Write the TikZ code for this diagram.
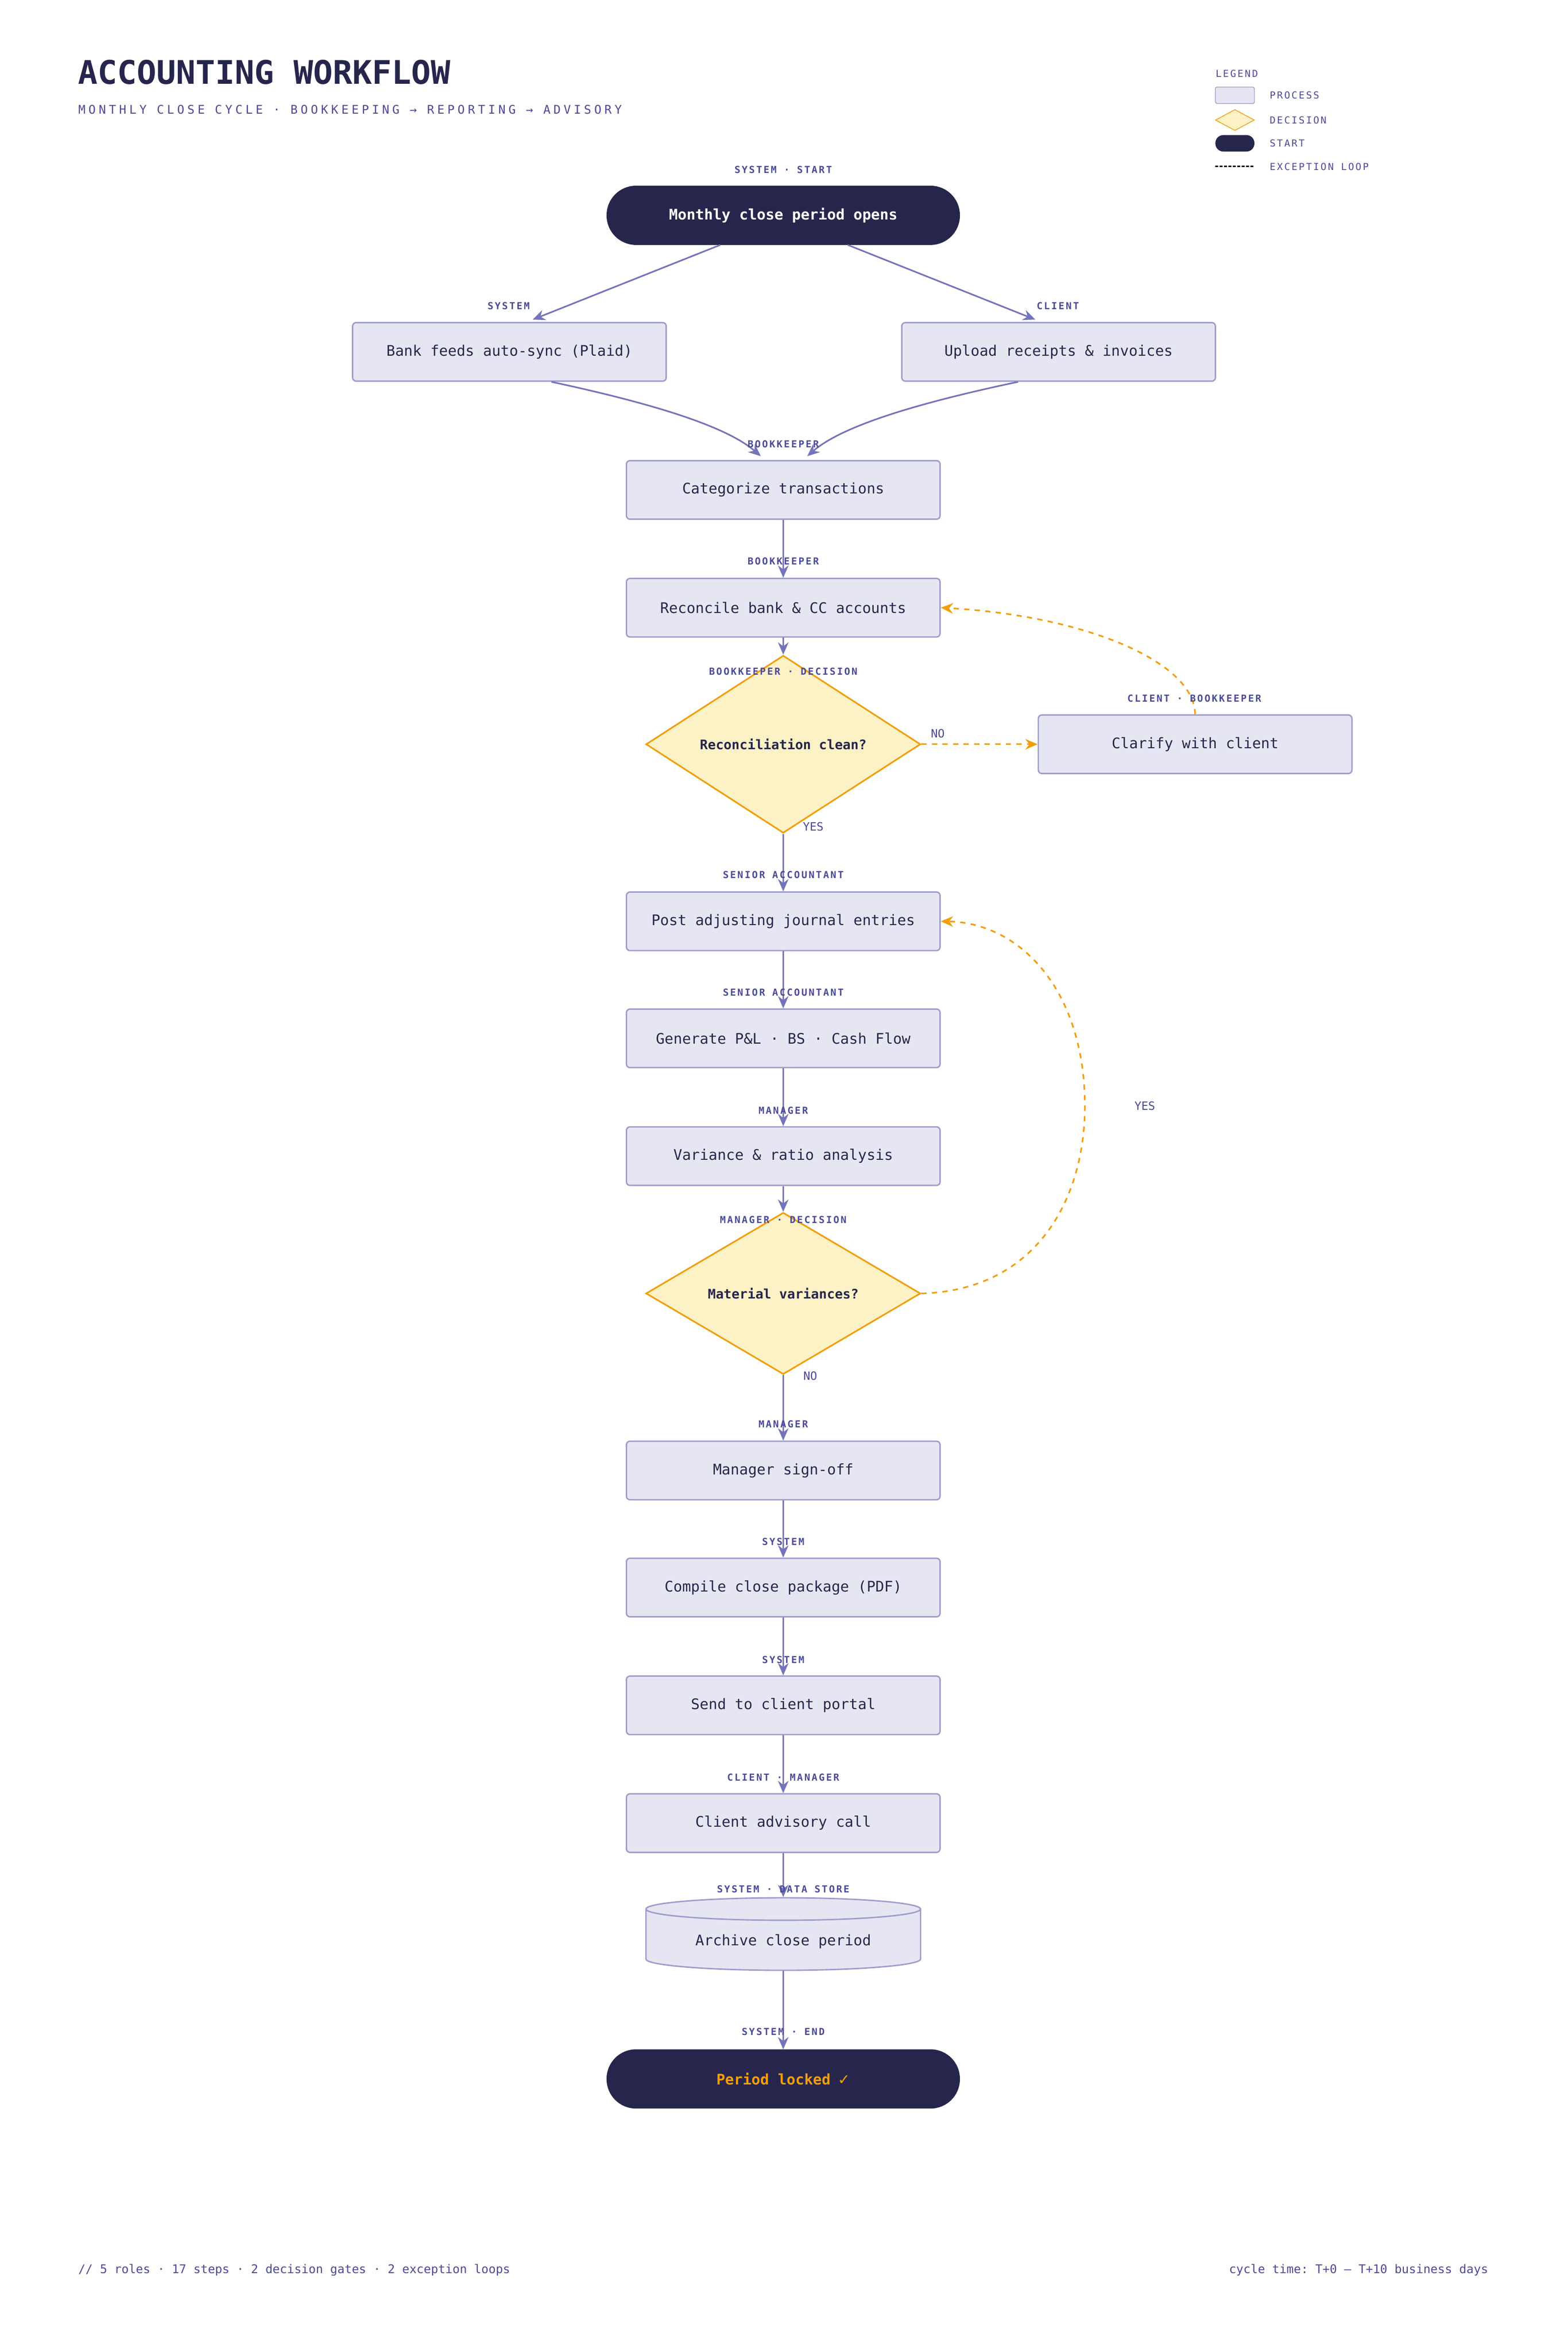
\documentclass[tikz,border=0pt]{standalone}
\usepackage{fontspec}
\setmonofont{DejaVu Sans Mono}
\newfontfamily\rolefont[LetterSpace=15]{DejaVu Sans Mono}
\newfontfamily\capsfont[LetterSpace=25]{DejaVu Sans Mono}
\usetikzlibrary{shapes.geometric,arrows.meta,positioning}

\definecolor{navy}{HTML}{26264D}
\definecolor{procfill}{HTML}{E6E6F2}
\definecolor{procline}{HTML}{A09CCC}
\definecolor{flow}{HTML}{7474BB}
\definecolor{ink}{HTML}{4A4A9A}
\definecolor{loop}{HTML}{F29E0C}
\definecolor{decfill}{HTML}{FDF1C6}

\tikzset{
  proc/.style = {rectangle, rounded corners=2pt, draw=procline, fill=procfill, line width=0.8pt,
    minimum width=6.27cm, minimum height=1.17cm, font=\ttfamily\fontsize{8.3}{10}\selectfont, text=navy},
  term/.style = {rectangle, rounded corners=0.58cm, fill=navy, draw=navy,
    minimum width=7.05cm, minimum height=1.17cm, font=\ttfamily\bfseries\fontsize{8.3}{10}\selectfont, text=white},
  dec/.style = {diamond, draw=loop, fill=decfill, line width=0.9pt, inner sep=0pt,
    minimum width=5.49cm, minimum height=2.22cm, font=\ttfamily\bfseries\fontsize{7.5}{9}\selectfont, text=navy},
  store/.style = {cylinder, shape border rotate=90, aspect=0.12, draw=procline, fill=procfill, line width=0.8pt,
    minimum width=5.49cm, minimum height=1.45cm, font=\ttfamily\fontsize{8.3}{10}\selectfont, text=navy},
  role/.style = {font=\rolefont\bfseries\fontsize{5.5}{6}\selectfont, text=ink, inner sep=1pt},
  flowline/.style = {draw=flow, line width=0.9pt, -{Stealth[length=7pt,width=6pt]}},
  exline/.style = {draw=loop, line width=0.9pt, dashed, -{Stealth[length=7pt,width=6pt]}},
  answer/.style = {font=\ttfamily\fontsize{6.5}{8}\selectfont, text=ink},
}

\begin{document}
\begin{tikzpicture}[x=0.03cm, y=-0.03cm]
\path[use as bounding box] (0,0) rectangle (1045,1567.5);

% title block
\node[anchor=west, inner sep=0, font=\ttfamily\bfseries\fontsize{18.5}{20}\selectfont, text=navy] (title) at (52,48) {ACCOUNTING WORKFLOW};
\node[anchor=west, inner sep=0, font=\capsfont\fontsize{6.8}{8}\selectfont, text=ink] (subtitle) at (52,73)
  {MONTHLY  CLOSE  CYCLE  ·  BOOKKEEPING  →  REPORTING  →  ADVISORY};

% legend
\node[anchor=west, inner sep=0, font=\rolefont\fontsize{5.5}{6}\selectfont, text=ink] (legend) at (810,49) {LEGEND};
\node[rectangle, rounded corners=1pt, draw=procline, fill=procfill, minimum width=0.78cm, minimum height=0.33cm, inner sep=0] (lgproc) at (823,63.5) {};
\node[diamond, draw=loop, fill=decfill, minimum width=0.78cm, minimum height=0.42cm, inner sep=0] (lgdec) at (823,80) {};
\node[rectangle, rounded corners=0.16cm, fill=navy, minimum width=0.78cm, minimum height=0.33cm, inner sep=0] (lgterm) at (823,95.5) {};
\coordinate (lgA) at (810,111);
\coordinate (lgB) at (836,111);
\draw[loop, line width=0.8pt, dashed, dash pattern=on 1.5pt off 1pt] (lgA) -- (lgB);
\foreach \y/\txt/\nm in {63.5/PROCESS/lp, 80/DECISION/ld, 95.5/START / END/lt, 111/EXCEPTION LOOP/le}
  \node[anchor=west, inner sep=0, font=\rolefont\fontsize{5.5}{6}\selectfont, text=ink] (\nm) at (846,\y) {\txt};

% flow nodes
\node[term] (start) at (522,143.5) {Monthly close period opens};
\node[proc] (bank) at (339.5,234.5) {Bank feeds auto-sync (Plaid)};
\node[proc] (upload) at (705.5,234.5) {Upload receipts \& invoices};
\node[proc] (categ) at (522,326.5) {Categorize transactions};
\node[proc] (recon) at (522,405) {Reconcile bank \& CC accounts};
\node[dec] (clean) at (522,496) {Reconciliation clean?};
\node[proc] (clarify) at (796.5,496) {Clarify with client};
\node[proc] (adjust) at (522,614) {Post adjusting journal entries};
\node[proc] (report) at (522,692) {Generate P\&L · BS · Cash Flow};
\node[proc] (variance) at (522,770.5) {Variance \& ratio analysis};
\node[dec] (material) at (522,862) {Material variances?};
\node[proc] (signoff) at (522,980) {Manager sign-off};
\node[proc] (compile) at (522,1058) {Compile close package (PDF)};
\node[proc] (send) at (522,1136.5) {Send to client portal};
\node[proc] (advisory) at (522,1215) {Client advisory call};
\node[store] (archive) at (522,1294) {Archive close period};
\node[term, text=loop] (locked) at (522,1385.5) {Period locked\enspace{\fontspec{DejaVu Sans}✓}};

% connectors
\draw[flowline] (start.south) ++(-42,0) coordinate (s1) -- (355,213) coordinate (b1);
\draw[flowline] (start.south) ++(43,0) coordinate (s2) -- (690,213) coordinate (u1);
\draw[flowline] (bank.south) ++(28,0) .. controls (440,270) and (485,285) .. (507,304);
\draw[flowline] (upload.south) ++(-27,0) .. controls (605,270) and (560,285) .. (538,304);
\draw[flowline] (categ) -- (recon);
\draw[flowline] (recon) -- (clean);
\draw[flowline] (clean) -- (adjust);
\draw[flowline] (adjust) -- (report);
\draw[flowline] (report) -- (variance);
\draw[flowline] (variance) -- (material);
\draw[flowline] (material) -- (signoff);
\draw[flowline] (signoff) -- (compile);
\draw[flowline] (compile) -- (send);
\draw[flowline] (send) -- (advisory);
\draw[flowline] (advisory) -- (archive.north);
\draw[flowline] (archive.south) -- (locked);

% exception loops
\draw[exline] (clean.east) -- (clarify.west);
\draw[exline] (clarify.north) .. controls (796,440) and (720,410) .. (recon.east);
\draw[exline] (material.east) .. controls (690,860) and (723,800) .. (723,737)
  .. controls (723,660) and (680,615) .. (adjust.east);

% role tags
\node[role] (r0) at (522,113) {SYSTEM · START};
\node[role] (r1) at (339,204) {SYSTEM};
\node[role] (r2) at (705,204) {CLIENT};
\node[role] (r3) at (522,296) {BOOKKEEPER};
\node[role] (r4) at (522,374) {BOOKKEEPER};
\node[role] (r5) at (522,447.5) {BOOKKEEPER · DECISION};
\node[role] (r6) at (796,465.5) {CLIENT · BOOKKEEPER};
\node[role] (r7) at (522,583) {SENIOR ACCOUNTANT};
\node[role] (r8) at (522,661.5) {SENIOR ACCOUNTANT};
\node[role] (r9) at (522,740) {MANAGER};
\node[role] (r10) at (522,813) {MANAGER · DECISION};
\node[role] (r11) at (522,949) {MANAGER};
\node[role] (r12) at (522,1027.5) {SYSTEM};
\node[role] (r13) at (522,1106) {SYSTEM};
\node[role] (r14) at (522,1184.5) {CLIENT · MANAGER};
\node[role] (r15) at (522,1259) {SYSTEM · DATA STORE};
\node[role] (r16) at (522,1354) {SYSTEM · END};

% branch answers
\node[answer] (no1) at (625,489) {NO};
\node[answer] (yes1) at (542,551) {YES};
\node[answer] (yes2) at (763,737) {YES};
\node[answer] (no2) at (540,917) {NO};

% footer
\node[anchor=west, inner sep=0, font=\ttfamily\fontsize{6.8}{8}\selectfont, text=ink] (footl) at (52,1513)
  {// 5 roles · 17 steps · 2 decision gates · 2 exception loops};
\node[anchor=east, inner sep=0, font=\ttfamily\fontsize{6.8}{8}\selectfont, text=ink] (footr) at (992,1513)
  {cycle time: T+0 – T+10 business days};
\end{tikzpicture}
\end{document}
